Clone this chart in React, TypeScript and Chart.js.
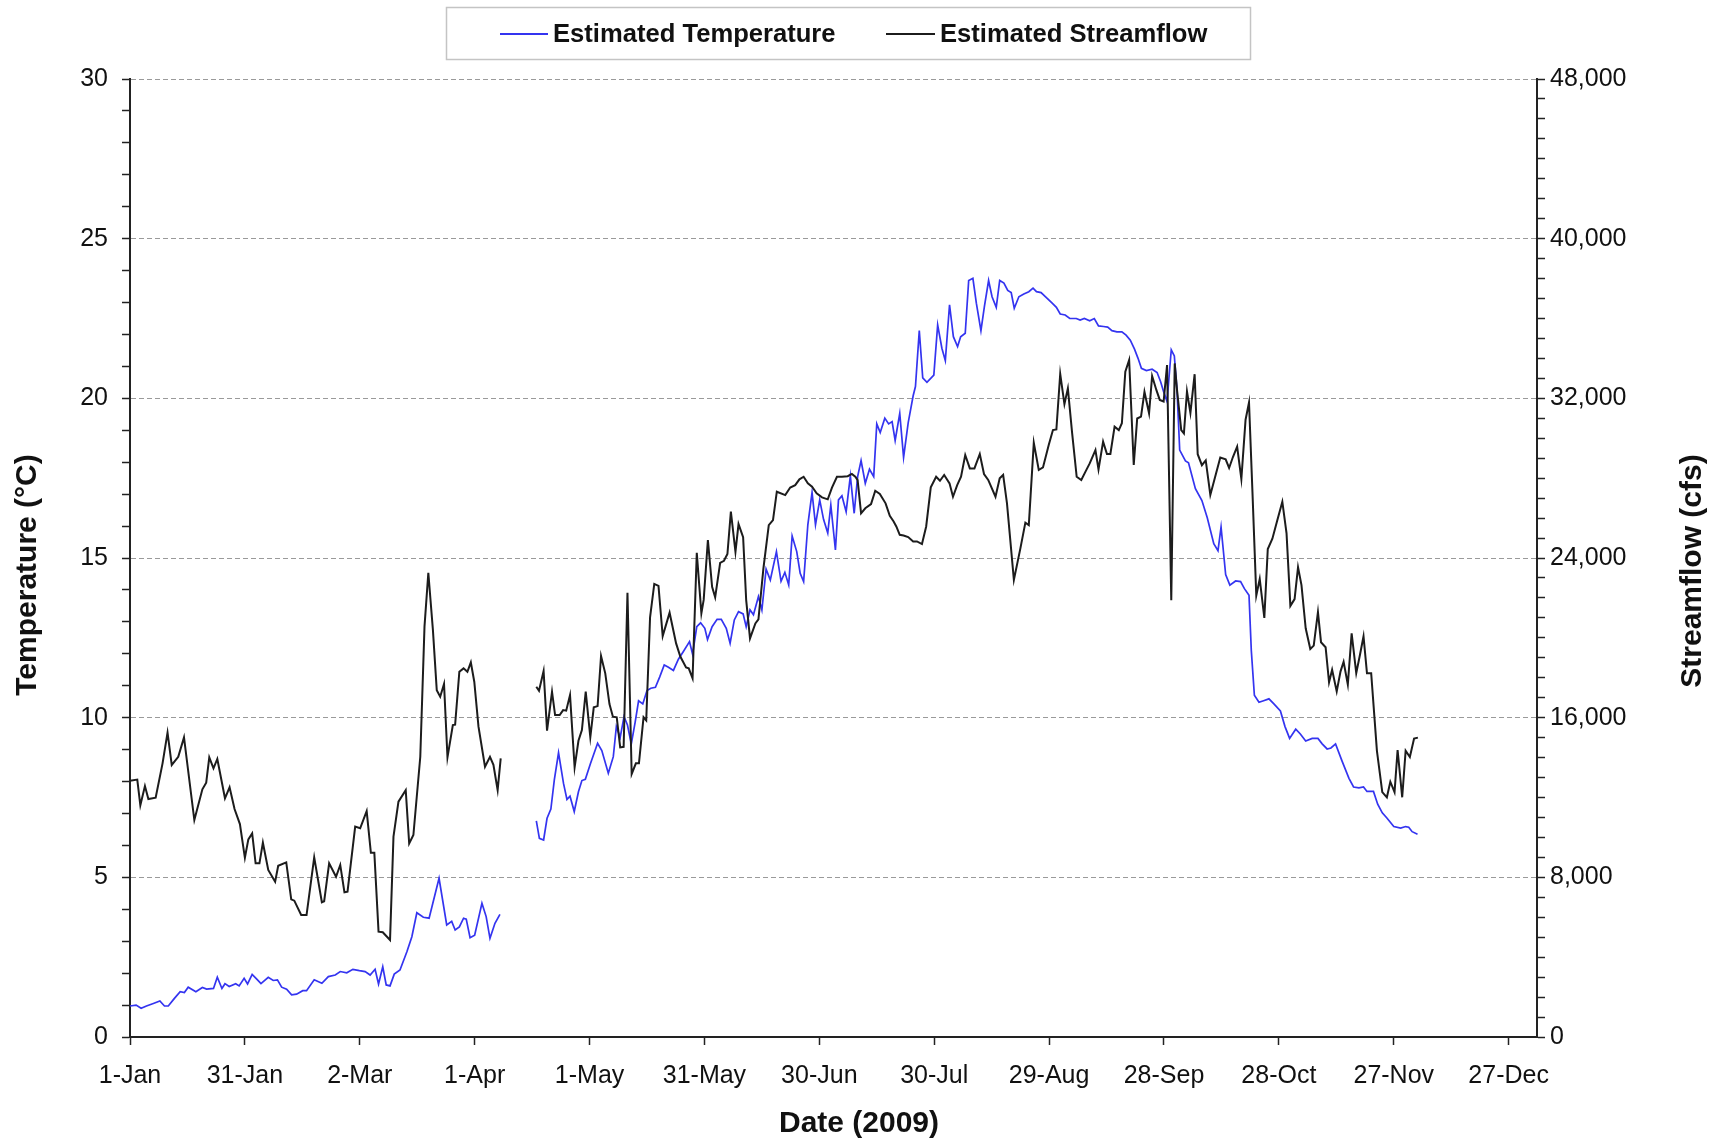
import React, { useEffect, useRef } from 'react';
import { Chart, registerables } from 'chart.js';

Chart.register(...registerables);

// ---------------- data ----------------
const seriesNames = ['Estimated Temperature', 'Estimated Streamflow'];

const xTickDays = [0, 30, 60, 90, 120, 150, 180, 210, 240, 270, 300, 330, 360];
const xTickLabels = ['1-Jan', '31-Jan', '2-Mar', '1-Apr', '1-May', '31-May', '30-Jun', '30-Jul', '29-Aug', '28-Sep', '28-Oct', '27-Nov', '27-Dec'];
const tempLabelTicks = [0, 5, 10, 15, 20, 25, 30];
const flowLabelTicks = [0, 8000, 16000, 24000, 32000, 40000, 48000];

// day of year (0 = 1-Jan) for temperature readings; null value marks the data gap
const tempDays = [
  0, 1.6, 2.9, 4.3, 6.1, 7.8, 9.0, 10.0, 11.6, 13.1,
  14.2, 15.2, 17.2, 18.9, 20.0, 21.8, 22.8, 24.0, 24.8, 25.9,
  27.6, 28.5, 29.8, 30.7, 31.9, 33.1, 34.2, 36.1, 37.4, 38.5,
  39.6, 40.9, 42.2, 43.5, 45.1, 46.1, 48.1, 50.1, 51.8, 53.6,
  54.9, 56.6, 58.2, 59.9, 61.4, 62.7, 64.0, 64.9, 66.0, 66.9,
  67.9, 69.0, 70.5, 72.3, 73.6, 74.9, 76.6, 78.1, 80.7, 82.7,
  84.0, 84.9, 86.0, 87.1, 87.8, 88.8, 90.0, 91.9, 93.0, 94.0,
  95.3, 96.6, 101,
  106.1, 106.9, 108.0, 108.9, 109.9, 110.8, 111.9, 113.2, 114.1, 114.9,
  116.0, 117.1, 118.0, 118.9, 120.2, 122.1, 123.2, 124.9, 126.2, 127.0,
  128.0, 129.0, 129.9, 130.9, 131.9, 132.8, 133.9, 135.0, 136.0, 137.2,
  138.3, 139.5, 140.6, 141.9, 143.2, 144.5, 146.1, 146.9, 148.0, 149.0,
  150.1, 150.8, 152.0, 153.3, 154.4, 155.7, 156.7, 157.8, 158.9, 160.1,
  160.9, 161.9, 162.8, 164.1, 165.0, 166.1, 167.2, 168.8, 170.0, 171.0,
  172.0, 172.9, 174.1, 175.0, 175.9, 177.0, 178.1, 179.0, 180.1, 181.1,
  182.2, 183.0, 184.2, 185.0, 185.9, 187.0, 188.1, 189.1, 190.0, 190.9,
  192.0, 193.1, 194.2, 195.0, 195.9, 197.1, 198.1, 199.0, 199.8, 201.0,
  202.0, 203.2, 204.5, 205.1, 206.1, 207.0, 208.1, 209.9, 210.9, 212.0,
  212.9, 214.0, 215.0, 216.1, 216.9, 218.1, 219.0, 220.1, 221.0, 222.2,
  223.1, 224.2, 225.1, 226.2, 227.1, 228.2, 229.2, 230.1, 230.9, 232.1,
  233.4, 234.7, 235.8, 236.7, 237.9, 239.5, 240.8, 241.9, 242.9, 244.2,
  245.4, 247.1, 248.1, 249.2, 250.6, 251.8, 252.9, 254.2, 255.3, 256.4,
  257.7, 259.0, 260.1, 261.2, 262.3, 263.2, 264.1, 265.4, 266.9, 268.2,
  269.1, 269.9, 270.8, 271.9, 272.7, 273.4, 274.1, 275.6, 276.4, 278.2,
  279.9, 281.3, 283.0, 284.1, 284.9, 286.1, 287.2, 288.7, 290.0, 291.0,
  292.2, 292.8, 293.6, 294.8, 296.0, 297.4, 298.7, 300.4, 301.6, 302.8,
  304.4, 305.6, 307.0, 308.7, 310.2, 311.3, 312.6, 313.6, 314.8, 316.5,
  318.3, 319.5, 320.9, 322.1, 323.0, 324.7, 325.8, 327.0, 328.2, 330.0,
  331.8, 333.1, 333.9, 334.8, 336.2,
];
const tempValues = [
  0.97, 1.00, 0.90, 0.97, 1.05, 1.13, 0.97, 0.97, 1.21, 1.42,
  1.39, 1.56, 1.42, 1.55, 1.50, 1.52, 1.87, 1.52, 1.67, 1.58,
  1.67, 1.60, 1.84, 1.66, 1.96, 1.81, 1.67, 1.87, 1.77, 1.79,
  1.56, 1.50, 1.32, 1.34, 1.45, 1.45, 1.79, 1.68, 1.89, 1.94,
  2.05, 2.01, 2.12, 2.08, 2.05, 1.94, 2.12, 1.66, 2.20, 1.63,
  1.60, 1.97, 2.10, 2.67, 3.14, 3.89, 3.75, 3.72, 4.97, 3.51,
  3.62, 3.35, 3.45, 3.72, 3.69, 3.11, 3.19, 4.19, 3.77, 3.09,
  3.56, 3.84, null,
  6.77, 6.22, 6.17, 6.85, 7.14, 8.05, 8.90, 7.94, 7.44, 7.54,
  7.06, 7.68, 8.03, 8.07, 8.55, 9.20, 8.97, 8.26, 8.78, 9.72,
  9.38, 10.03, 9.77, 9.18, 9.85, 10.53, 10.43, 10.85, 10.92, 10.95,
  11.27, 11.65, 11.58, 11.48, 11.83, 12.07, 12.38, 11.99, 12.85, 12.97,
  12.80, 12.45, 12.85, 13.08, 13.08, 12.80, 12.33, 13.06, 13.32, 13.25,
  12.85, 13.38, 13.22, 13.79, 13.37, 14.65, 14.31, 15.20, 14.27, 14.55,
  14.16, 15.69, 15.20, 14.52, 14.26, 16.04, 17.05, 16.04, 16.82, 16.21,
  15.78, 16.66, 15.25, 16.82, 16.95, 16.45, 17.57, 16.40, 17.55, 18.05,
  17.34, 17.78, 17.55, 19.20, 18.93, 19.38, 19.20, 19.27, 18.68, 19.53,
  18.15, 19.23, 20.08, 20.37, 22.12, 20.64, 20.50, 20.73, 22.30, 21.57,
  21.18, 22.93, 21.93, 21.62, 21.93, 22.04, 23.69, 23.76, 22.98, 22.12,
  22.87, 23.69, 23.18, 22.85, 23.69, 23.61, 23.38, 23.31, 22.82, 23.18,
  23.27, 23.34, 23.45, 23.34, 23.31, 23.13, 22.98, 22.85, 22.64, 22.61,
  22.50, 22.50, 22.45, 22.50, 22.43, 22.50, 22.27, 22.25, 22.23, 22.12,
  22.08, 22.08, 21.98, 21.82, 21.54, 21.26, 20.94, 20.87, 20.91, 20.81,
  20.53, 20.21, 19.90, 21.52, 21.33, 20.26, 18.38, 18.04, 17.98, 17.17,
  16.80, 16.26, 15.45, 15.23, 15.97, 14.48, 14.15, 14.28, 14.26, 14.04,
  13.83, 12.10, 10.70, 10.48, 10.53, 10.59, 10.43, 10.21, 9.72, 9.35,
  9.64, 9.49, 9.27, 9.35, 9.35, 9.18, 9.02, 9.05, 9.18, 8.64,
  8.10, 7.83, 7.80, 7.83, 7.69, 7.69, 7.29, 7.02, 6.86, 6.59,
  6.54, 6.59, 6.57, 6.43, 6.35,
];

const flowDays = [
  0, 1.9, 2.7, 3.9, 4.8, 6.7, 8.5, 9.8, 10.9, 12.6,
  14.1, 16.8, 18.9, 19.9, 20.7, 21.8, 22.8, 24.8, 26.0, 27.3,
  28.7, 30.0, 30.9, 31.9, 32.8, 33.8, 34.7, 36.1, 37.9, 38.7,
  40.8, 42.1, 42.9, 44.7, 46.1, 48.1, 50.1, 50.7, 52.0, 53.8,
  54.9, 56.0, 56.8, 58.8, 60.1, 61.8, 62.9, 63.8, 64.9, 66.0,
  67.9, 68.8, 70.1, 72.0, 72.9, 74.0, 75.8, 76.9, 77.9, 79.1,
  80.1, 81.0, 82.0, 82.9, 84.3, 84.9, 86.0, 87.1, 88.1, 89.0,
  89.9, 91.0, 92.7, 94.0, 94.9, 96.0, 96.8, 101,
  106.1, 106.8, 108.0, 108.9, 110.2, 111.0, 112.2, 113.1, 113.9, 114.9,
  116.1, 117.1, 118.0, 119.0, 120.2, 121.1, 122.1, 123.0, 124.1, 125.2,
  126.1, 127.1, 128.0, 128.9, 129.9, 131.0, 132.1, 132.9, 134.1, 134.8,
  135.8, 136.9, 138.0, 139.1, 140.9, 142.6, 143.7, 145.2, 145.9, 146.9,
  148.0, 149.2, 149.8, 150.9, 152.0, 152.8, 154.1, 155.1, 156.0, 156.9,
  158.1, 158.9, 160.1, 160.9, 161.9, 163.3, 164.1, 165.4, 166.8, 167.9,
  168.9, 171.1, 172.4, 173.7, 174.8, 175.9, 177.0, 178.1, 179.3, 180.7,
  182.2, 183.3, 184.6, 185.9, 187.4, 188.5, 189.4, 190.0, 190.9, 192.0,
  193.5, 194.6, 195.8, 197.3, 198.4, 199.4, 200.1, 201.0, 202.0, 203.2,
  204.5, 205.5, 206.8, 207.9, 209.1, 210.5, 211.5, 212.6, 214.0, 214.9,
  216.0, 217.0, 218.1, 219.3, 220.5, 221.9, 223.0, 224.1, 226.0, 227.1,
  228.0, 229.0, 230.8, 232.5, 233.8, 234.7, 236.0, 237.3, 238.4, 239.9,
  241.0, 241.9, 242.9, 244.0, 244.9, 246.0, 247.2, 248.4, 249.5, 250.6,
  252.1, 252.9, 254.1, 255.1, 256.0, 257.1, 258.2, 259.0, 259.9, 260.9,
  262.1, 263.0, 264.0, 264.9, 266.1, 266.9, 268.0, 268.9, 269.9, 270.8,
  271.9, 272.8, 273.4, 274.5, 275.2, 276.0, 276.9, 278.0, 278.8, 279.9,
  280.9, 282.1, 283.5, 284.7, 286.1, 287.0, 288.0, 289.1, 290.2, 291.3,
  292.2, 293.1, 294.1, 295.0, 296.2, 297.1, 298.3, 299.5, 300.9, 302.0,
  303.0, 304.1, 305.0, 305.9, 307.0, 308.2, 309.1, 310.2, 311.0, 312.2,
  313.1, 313.9, 315.1, 316.1, 316.9, 318.0, 319.0, 320.2, 321.2, 322.1,
  323.0, 324.1, 325.6, 327.0, 328.2, 329.1, 330.2, 331.0, 332.2, 333.1,
  334.2, 335.3, 336.3,
];
const flowValues = [
  12840, 12900, 11610, 12575, 11924, 11990, 13710, 15250, 13630, 14040,
  15010, 10870, 12410, 12740, 14010, 13460, 13930, 11960, 12510, 11420,
  10670, 8980, 9900, 10200, 8700, 8700, 9735, 8370, 7780, 8580,
  8750, 6900, 6830, 6110, 6110, 9000, 6750, 6800, 8700, 8030,
  8620, 7250, 7280, 10540, 10460, 11320, 9230, 9230, 5280, 5250,
  4860, 10040, 11790, 12370, 9700, 10120, 14040, 20560, 23260, 20390,
  17380, 17050, 17690, 14010, 15630, 15650, 18300, 18470, 18300, 18770,
  17800, 15550, 13540, 14040, 13640, 12370, 13960, null,
  17550, 17350, 18340, 15350, 17300, 16130, 16130, 16380, 16350, 17130,
  13510, 14840, 15380, 17300, 15020, 16520, 16580, 19090, 18220, 16680,
  16050, 16020, 14510, 14540, 22260, 13180, 13710, 13710, 16020, 15860,
  21030, 22700, 22600, 20090, 21260, 19720, 19060, 18520, 18470, 17970,
  24260, 21230, 21900, 24900, 22560, 22030, 23760, 23860, 24200, 26320,
  24310, 25700, 25040, 21890, 19970, 20720, 20920, 23480, 25650, 25900,
  27320, 27150, 27530, 27650, 27940, 28070, 27740, 27570, 27240, 27040,
  26940, 27530, 28070, 28070, 28100, 28210, 28070, 27900, 26240, 26490,
  26700, 27370, 27210, 26740, 26110, 25830, 25580, 25160, 25130, 25050,
  24830, 24830, 24700, 25580, 27540, 28070, 27870, 28160, 27740, 27070,
  27650, 28070, 29160, 28490, 28490, 29210, 28210, 27910, 27070, 27990,
  28160, 26740, 22900, 24480, 25770, 25650, 29770, 28410, 28540, 29660,
  30410, 30440, 33220, 31710, 32500, 30280, 28070, 27910, 28330, 28740,
  29410, 28440, 29830, 29210, 29210, 30580, 30410, 30750, 33330, 33920,
  28660, 30990, 31080, 32330, 31250, 33120, 32420, 31920, 31840, 33670,
  21890, 33750, 32420, 30410, 30240, 32350, 31270, 33210, 29200, 28650,
  28890, 27160, 28170, 29030, 28940, 28510, 29060, 29580, 27960, 30930,
  31790, 27300, 22120, 22950, 21000, 24450, 24970, 25830, 26820, 25230,
  21600, 21940, 23540, 22640, 20480, 19440, 19610, 21290, 19780, 19530,
  17770, 18400, 17310, 18320, 18800, 17660, 20220, 18230, 19180, 20080,
  18230, 18230, 14340, 12270, 12010, 12790, 12270, 14380, 12010, 14340,
  14030, 14950, 15000,
];

// ---------------- styling ----------------
const TEMP_COLOR = '#3434f0';
const FLOW_COLOR = '#1c1c1c';
const FONT = '"Liberation Sans", Arial, sans-serif';
const X_MAX = 367.4;

const toPoints = (days: number[], vals: (number | null)[]) =>
  days.map((d, i) => ({ x: d, y: vals[i] }));

const intRange = (a: number, b: number, step: number) => {
  const out: number[] = [];
  for (let v = a; v <= b + 1e-9; v += step) out.push(v);
  return out;
};

const decorPlugin = {
  id: 'decor',
  afterDraw(chart: any) {
    const ctx = chart.ctx as CanvasRenderingContext2D;
    ctx.save();
    // legend box
    ctx.strokeStyle = '#c4c4c4';
    ctx.lineWidth = 1.5;
    ctx.strokeRect(446.5, 7.5, 804, 52);
    const ly = 34;
    ctx.lineWidth = 2;
    ctx.strokeStyle = TEMP_COLOR;
    ctx.beginPath(); ctx.moveTo(500, ly); ctx.lineTo(548, ly); ctx.stroke();
    ctx.strokeStyle = FLOW_COLOR;
    ctx.beginPath(); ctx.moveTo(886, ly); ctx.lineTo(935, ly); ctx.stroke();
    ctx.fillStyle = '#111';
    ctx.font = `bold 25.6px ${FONT}`;
    ctx.textAlign = 'left';
    ctx.textBaseline = 'middle';
    ctx.fillText(seriesNames[0], 553, ly + 1);
    ctx.fillText(seriesNames[1], 940, ly + 1);

    // axis titles
    ctx.font = `bold 30px ${FONT}`;
    ctx.textAlign = 'center';
    ctx.fillText('Date (2009)', 859, 1124);
    ctx.save();
    ctx.translate(28, 575);
    ctx.rotate(-Math.PI / 2);
    ctx.fillText('Temperature (°C)', 0, 0);
    ctx.restore();
    ctx.save();
    ctx.translate(1693, 571);
    ctx.rotate(-Math.PI / 2);
    ctx.fillText('Streamflow (cfs)', 0, 0);
    ctx.restore();
    ctx.restore();
  },
};

export default function App() {
  const canvasRef = useRef<HTMLCanvasElement | null>(null);

  useEffect(() => {
    if (!canvasRef.current) return;
    const tickFont = { family: FONT, size: 25 };
    const chart = new Chart(canvasRef.current, {
      type: 'line',
      data: {
        datasets: [
          {
            label: seriesNames[1],
            data: toPoints(flowDays, flowValues),
            yAxisID: 'y1',
            borderColor: FLOW_COLOR,
            backgroundColor: FLOW_COLOR,
            borderWidth: 2,
            pointRadius: 0,
            tension: 0,
            spanGaps: false,
            order: 0,
          },
          {
            label: seriesNames[0],
            data: toPoints(tempDays, tempValues),
            yAxisID: 'y',
            borderColor: TEMP_COLOR,
            backgroundColor: TEMP_COLOR,
            borderWidth: 1.7,
            pointRadius: 0,
            tension: 0,
            spanGaps: false,
            order: 1,
          },
        ],
      },
      options: {
        responsive: false,
        animation: false,
        events: [],
        layout: { padding: { top: 79, left: 0, right: 0, bottom: 0 } },
        plugins: { legend: { display: false }, tooltip: { enabled: false } },
        scales: {
          x: {
            type: 'linear',
            min: 0,
            max: X_MAX,
            afterBuildTicks: (scale: any) => {
              scale.ticks = xTickDays.map((v) => ({ value: v }));
            },
            afterFit: (scale: any) => {
              scale.height = 105;
            },
            ticks: {
              autoSkip: false,
              maxRotation: 0,
              minRotation: 0,
              padding: 16,
              color: '#111',
              font: tickFont,
              callback: (value: any) => {
                const i = xTickDays.indexOf(Number(value));
                return i >= 0 ? xTickLabels[i] : '';
              },
            },
            grid: { drawOnChartArea: false, drawTicks: true, tickLength: 8, tickColor: '#222', tickWidth: 1.5 },
            border: { display: true, color: '#222', width: 2 },
          },
          y: {
            type: 'linear',
            position: 'left',
            min: 0,
            max: 30,
            afterBuildTicks: (scale: any) => {
              scale.ticks = intRange(0, 30, 1).map((v) => ({ value: v }));
            },
            afterFit: (scale: any) => {
              scale.width = 130;
            },
            ticks: {
              autoSkip: false,
              padding: 14,
              color: '#111',
              font: tickFont,
              callback: (value: any) => (tempLabelTicks.includes(Number(value)) ? String(value) : ''),
            },
            grid: {
              drawOnChartArea: true,
              drawTicks: true,
              tickLength: 8,
              tickColor: '#222',
              tickWidth: 1.5,
              lineWidth: 1,
              color: (ctx: any) => {
                const v = ctx.tick ? ctx.tick.value : -1;
                return v > 0 && v % 5 === 0 ? '#9a9a9a' : 'rgba(0,0,0,0)';
              },
            },
            border: { display: true, color: '#222', width: 2, dash: [5, 3] },
          },
          y1: {
            type: 'linear',
            position: 'right',
            min: 0,
            max: 48000,
            afterBuildTicks: (scale: any) => {
              scale.ticks = intRange(0, 48000, 1000).map((v) => ({ value: v }));
            },
            afterFit: (scale: any) => {
              scale.width = 187;
            },
            ticks: {
              autoSkip: false,
              padding: 5,
              color: '#111',
              font: tickFont,
              callback: (value: any) =>
                flowLabelTicks.includes(Number(value)) ? Number(value).toLocaleString('en-US') : '',
            },
            grid: { drawOnChartArea: false, drawTicks: true, tickLength: 8, tickColor: '#222', tickWidth: 1.5 },
            border: { display: true, color: '#222', width: 2 },
          },
        },
      },
      plugins: [decorPlugin],
    } as any);
    return () => chart.destroy();
  }, []);

  return (
    <div style={{ position: 'absolute', left: 0, top: 0, width: 1724, height: 1142, background: '#fff' }}>
      <canvas ref={canvasRef} width={1724} height={1142} style={{ display: 'block' }} />
    </div>
  );
}
